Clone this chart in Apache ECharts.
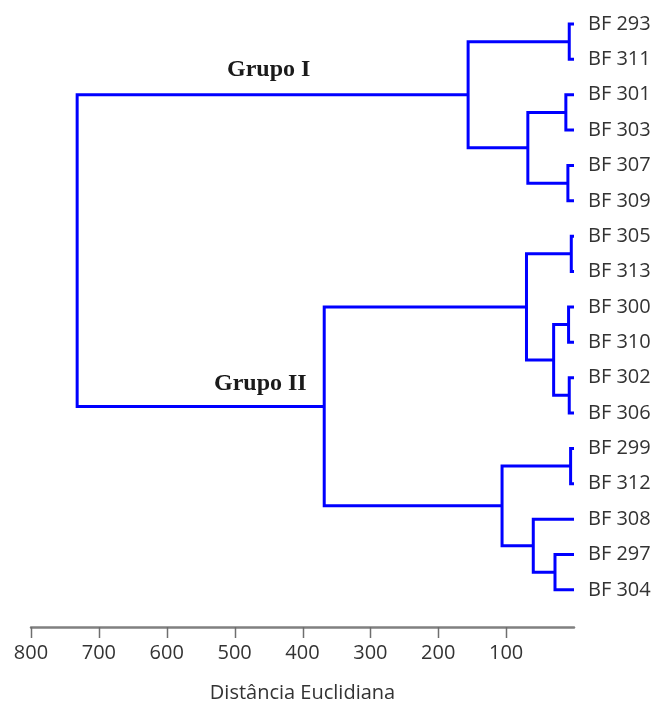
<!DOCTYPE html>
<html>
<head>
<meta charset="utf-8">
<script src="https://cdn.jsdelivr.net/npm/echarts@6/dist/echarts.min.js"></script>
<style>html,body{margin:0;padding:0;background:#fff}#c{width:654px;height:702px}</style>
</head>
<body>
<div id="c"></div>
<script>
// Leaves in display order (top to bottom)
const leaves = ['BF 293','BF 311','BF 301','BF 303','BF 307','BF 309','BF 305','BF 313','BF 300','BF 310','BF 302','BF 306','BF 299','BF 312','BF 308','BF 297','BF 304'];
// Merges: [childA, childB, height]; children as 'L<i>' (leaf) or 'N<i>' (node)
const merges = [
  ['L0','L1',7],     // N0
  ['L2','L3',12],    // N1
  ['L4','L5',9],     // N2
  ['N1','N2',68],    // N3
  ['N0','N3',156],   // N4  Grupo I
  ['L6','L7',4],     // N5
  ['L8','L9',8],     // N6
  ['L10','L11',7],   // N7
  ['N6','N7',30],    // N8
  ['N5','N8',70],    // N9
  ['L12','L13',5],   // N10
  ['L15','L16',28],  // N11
  ['L14','N11',60],  // N12
  ['N10','N12',106], // N13
  ['N9','N13',368],  // N14 Grupo II
  ['N4','N14',732]   // N15 root
];
const xTicks = [800,700,600,500,400,300,200,100];
const groupNames = ['Grupo I','Grupo II'];

const Y_MIN = -0.678, Y_MAX = 17.05;

// resolve positions of nodes
const nodePos = [];
function pos(ref){
  const k = ref[0], i = +ref.slice(1);
  if (k === 'L') return {h:0, y:i};
  return nodePos[i];
}
const segData = [];
merges.forEach(m => {
  const a = pos(m[0]), b = pos(m[1]);
  segData.push([a.h, a.y, m[2], b.y, b.h]);
  nodePos.push({h:m[2], y:(a.y+b.y)/2});
});
const leafData = leaves.map((n,i)=>[0,i]);
const tickData = xTicks.map(v=>[v, Y_MAX]);

const chart = echarts.init(document.getElementById('c'));
chart.setOption({
  animation:false,
  grid:{left:31,right:80,top:0,bottom:75,outerBoundsMode:'none',containLabel:false},
  xAxis:{
    type:'value', inverse:true, min:0, max:800, interval:100, position:'bottom',
    splitLine:{show:false},
    axisLine:{show:true,onZero:false,lineStyle:{color:'#808080',width:2.5}},
    axisTick:{show:false},
    axisLabel:{margin:16,color:'#333',fontFamily:'Open Sans',fontSize:20,
      formatter:v=> xTicks.indexOf(v)>=0 ? String(v) : ''},
    name:'Distância Euclidiana', nameLocation:'middle', nameGap:56,
    nameTextStyle:{color:'#333',fontFamily:'Open Sans',fontSize:20}
  },
  yAxis:{type:'value',inverse:true,min:Y_MIN,max:Y_MAX,show:false},
  series:[
    {
      type:'custom',
      data:segData,
      renderItem:function(params, api){
        const p1 = api.coord([api.value(0), api.value(1)]);
        const p2 = api.coord([api.value(2), api.value(1)]);
        const p3 = api.coord([api.value(2), api.value(3)]);
        const p4 = api.coord([api.value(4), api.value(3)]);
        return {type:'polyline', shape:{points:[p1,p2,p3,p4]},
          style:{stroke:'#0000ff', lineWidth:3, fill:null, lineJoin:'miter'}};
      }
    },
    {
      type:'custom',
      data:leafData,
      renderItem:function(params, api){
        const p = api.coord([api.value(0), api.value(1)]);
        return {type:'text', x:p[0]+14, y:p[1],
          style:{text:leaves[params.dataIndex], fill:'#333', font:'20px "Open Sans"', textAlign:'left', textVerticalAlign:'middle'}};
      }
    },
    {
      type:'custom',
      data:tickData,
      clip:false,
      renderItem:function(params, api){
        const p = api.coord([api.value(0), api.value(1)]);
        const x = Math.round(p[0]) + 0.5;
        return {type:'line', shape:{x1:x, y1:p[1], x2:x, y2:p[1]+11},
          style:{stroke:'#6e6e6e', lineWidth:1.5}};
      }
    }
  ],
  graphic:[
    {type:'text', left:227, top:58, style:{text:groupNames[0], fill:'#1a1a1a', font:'bold 24px "Liberation Serif"'}},
    {type:'text', left:214, top:372, style:{text:groupNames[1], fill:'#1a1a1a', font:'bold 24px "Liberation Serif"'}}
  ]
});
</script>
</body>
</html>
